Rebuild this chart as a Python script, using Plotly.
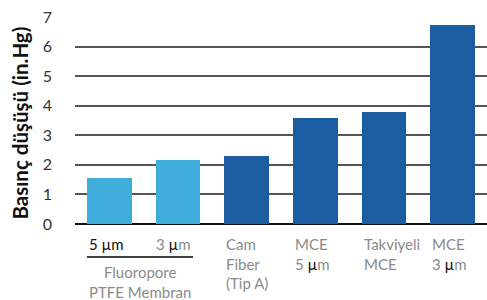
import plotly.graph_objects as go

categories = ["5 µm", "3 µm", "Cam Fiber (Tip A)", "MCE 5 µm", "Takviyeli MCE", "MCE 3 µm"]
values = [1.57, 2.18, 2.31, 3.6, 3.8, 6.72]
bar_colors = ["#3FAEDC", "#3FAEDC", "#1B5DA0", "#1B5DA0", "#1B5DA0", "#1B5DA0"]
y_ticks = [0, 1, 2, 3, 4, 5, 6, 7]
y_title = "Basınç düşüşü (in.Hg)"
cat_labels = [None, None, "Cam<br>Fiber<br>(Tip A)", "MCE<br>5 <span style='color:#111'>µ</span>m",
              "Takviyeli<br>MCE", "MCE<br>3 <span style='color:#111'>µ</span>m"]
group_label = "Fluoropore<br>PTFE Membran"

FONT = "Lato"
GRAY = "#8a8a8a"
BW = 0.655

fig = go.Figure()
fig.add_trace(go.Bar(x=list(range(len(categories))), y=values, marker_color=bar_colors,
                     width=BW, marker_line_width=0, hoverinfo="skip"))

annotations = []
for i, lab in enumerate(cat_labels):
    if lab is None:
        continue
    annotations.append(dict(x=i - BW / 2, y=0, xref="x", yref="paper", text=lab, showarrow=False,
                            xanchor="left", yanchor="top", align="left", yshift=-9,
                            font=dict(family=FONT, size=15, color=GRAY)))
# sub labels for the PTFE group
annotations.append(dict(x=0 - BW / 2, y=0, xref="x", yref="paper", text="5 µm", showarrow=False,
                        xanchor="left", yanchor="top", align="left", yshift=-9,
                        font=dict(family=FONT, size=15, color="#111")))
annotations.append(dict(x=1.22, y=0, xref="x", yref="paper",
                        text="3 <span style='color:#111'>µ</span>m", showarrow=False,
                        xanchor="right", yanchor="top", align="right", yshift=-9,
                        font=dict(family=FONT, size=15, color=GRAY)))
annotations.append(dict(x=(0 - BW / 2 + 1.22) / 2, y=0, xref="x", yref="paper", text=group_label,
                        showarrow=False, xanchor="center", yanchor="top", align="center", yshift=-37,
                        font=dict(family=FONT, size=15, color=GRAY)))
annotations.append(dict(x=0, y=0.485, xref="paper", yref="paper", text="<b>" + y_title + "</b>",
                        showarrow=False, textangle=-90, xanchor="center", yanchor="middle", xshift=-55,
                        font=dict(family=FONT, size=20.5, color="#111")))

shapes = [dict(type="line", xref="x", yref="paper", x0=0 - BW / 2, x1=1.22, y0=-33, y1=-33,
               line=dict(color="#444", width=2), ysizemode="pixel", yanchor=0)]

fig.update_layout(
    width=487, height=300,
    margin=dict(l=75, r=0, t=17, b=76),
    plot_bgcolor="white", paper_bgcolor="white",
    showlegend=False, bargap=0,
    annotations=annotations, shapes=shapes,
    xaxis=dict(range=[-0.5, 5.5], showticklabels=False, showgrid=False, zeroline=False,
               showline=False, ticks=""),
    yaxis=dict(range=[0, 7], tickvals=y_ticks, showgrid=True, gridcolor="#555", gridwidth=2,
               zeroline=True, zerolinecolor="#111", zerolinewidth=2, showline=False,
               automargin=False,
               ticklabelstandoff=22, tickfont=dict(family=FONT, size=16, color="#333")),
)

fig.write_html("out.html", config={"displayModeBar": False},
               post_script="document.body.style.margin='0';document.body.style.padding='0';")
